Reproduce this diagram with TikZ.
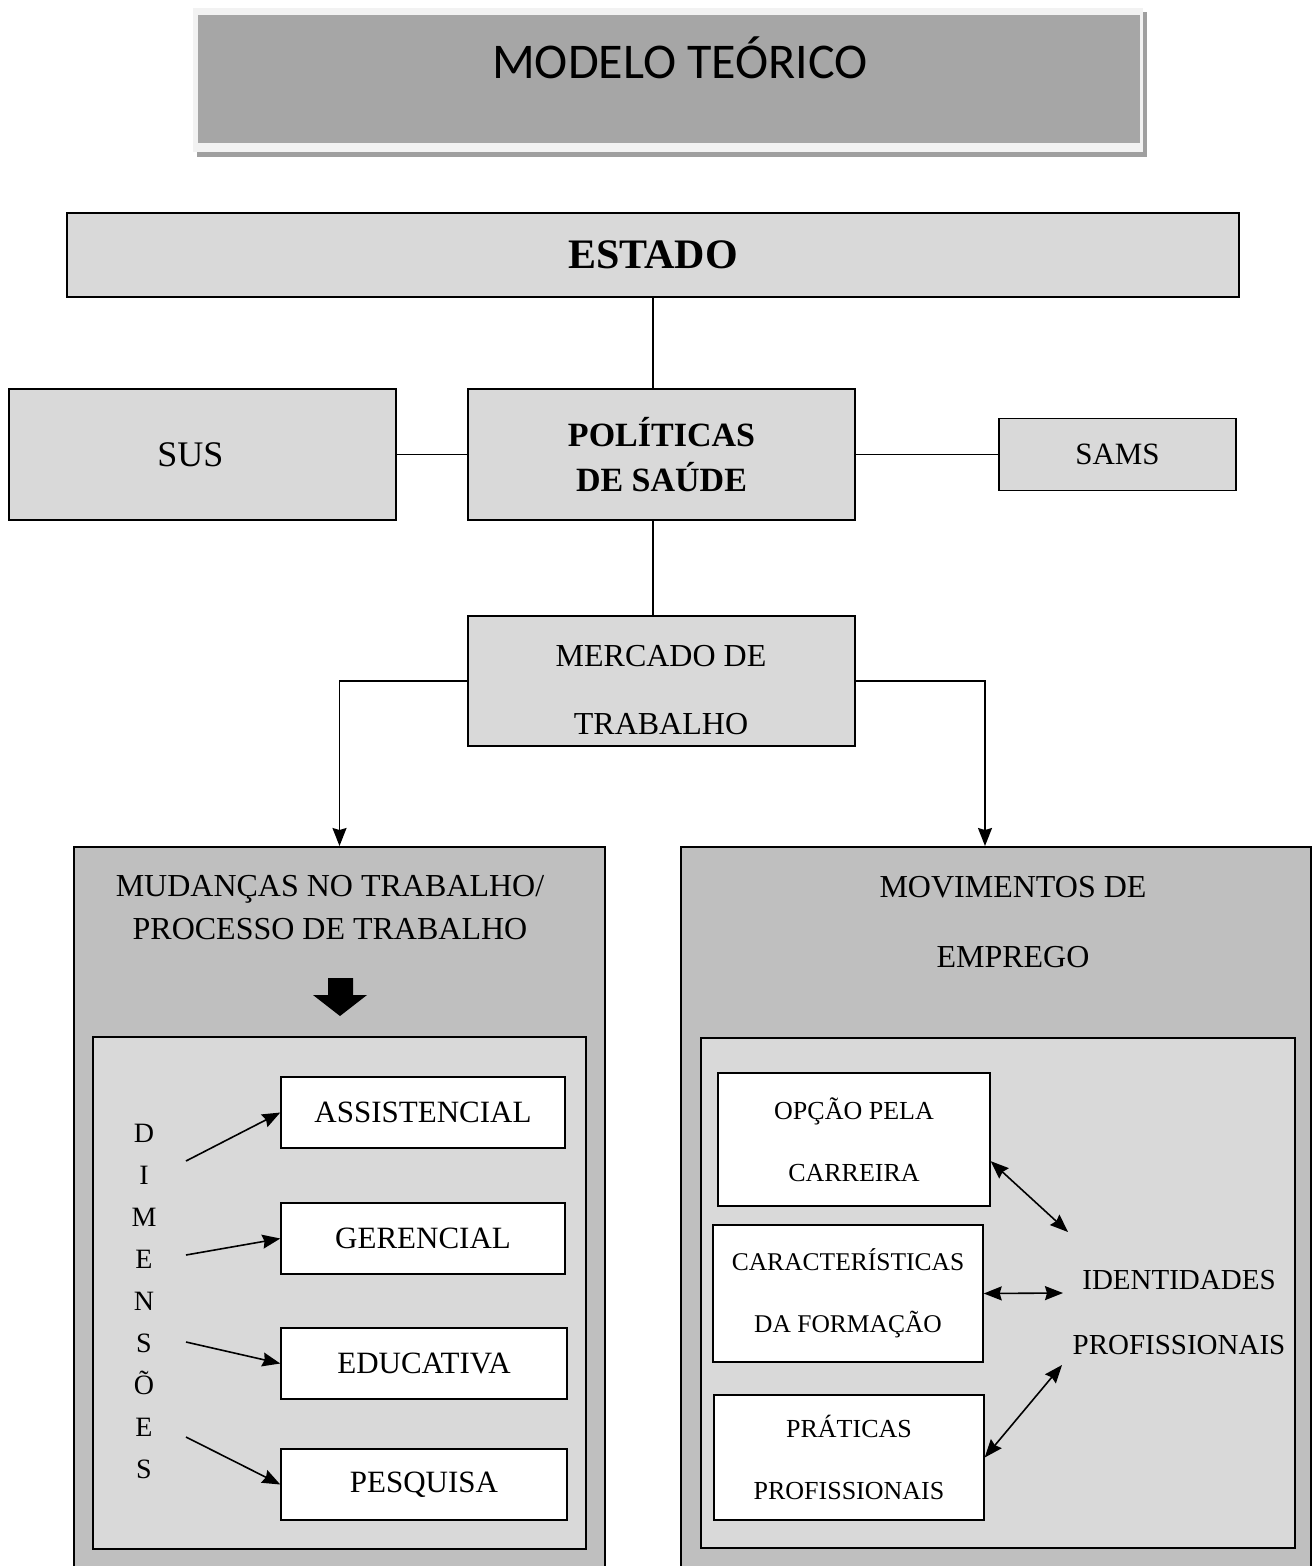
\documentclass[tikz,border=0pt]{standalone}
\usepackage{fontspec}
\setmainfont{Liberation Serif}
\newfontfamily\titlefont{Carlito}
\usepackage{tikz}
\usetikzlibrary{arrows.meta}
\definecolor{cellgray}{HTML}{D9D9D9}
\definecolor{panelgray}{HTML}{BFBFBF}
\definecolor{titlegray}{HTML}{A6A6A6}
\definecolor{titleedge}{HTML}{F2F2F2}
\definecolor{shadowgray}{HTML}{9F9F9F}
\tikzstyle{cell} = [rectangle, draw=black, line width=1.4pt, fill=cellgray, inner sep=0pt, text centered]
\tikzstyle{whitecell} = [cell, fill=white]
\tikzstyle{panel} = [cell, fill=panelgray, line width=1.6pt]
\tikzstyle{innerpanel} = [cell, fill=cellgray]
\tikzstyle{link} = [line width=1.4pt]
\tikzstyle{arrow} = [line width=1.6pt,->,>={Stealth[length=18pt,width=14pt,inset=2pt]}]
\tikzstyle{darrow} = [arrow,<->]

\begin{document}
\begin{tikzpicture}[x=1pt, y=-1pt]
\useasboundingbox (0,0) rectangle (1313,1566);
% titulo com sombra
\fill [shadowgray] (197,12) rectangle (1147,157);
\fill [titleedge] (193,8) rectangle (1143,152);
\node (titulo) [rectangle, fill=titlegray, minimum width=942, minimum height=128, inner sep=0pt] at (669,79) {};
\node (titulotxt) [font=\titlefont\fontsize{50}{60}\selectfont] at (680,58) {MODELO TEÓRICO};

\node (estado) [cell, minimum width=1172, minimum height=84, font=\bfseries\fontsize{42}{50}\selectfont] at (653,255) {ESTADO};
\node (sus) [cell, minimum width=387, minimum height=131, font=\fontsize{36}{43}\selectfont] at (202.5,454.5) {\hspace*{-24pt}SUS};
\node (politicas) [cell, minimum width=387, minimum height=131, font=\bfseries\fontsize{34}{45}\selectfont, align=center] at (661.5,454.5) {POLÍTICAS\\DE SAÚDE};
\node (sams) [cell, minimum width=237, minimum height=72, font=\fontsize{31}{37}\selectfont] at (1117.5,454.5) {SAMS};
\node (mercado) [cell, minimum width=387, minimum height=130] at (661.5,681) {};
\node (mercadotxt) [font=\fontsize{32}{68}\selectfont, align=center] at (661,690) {MERCADO DE\\TRABALHO};

\draw [link] (estado.south) -- (estado.south |- politicas.north);
\draw [link] (estado.south |- politicas.south) -- (estado.south |- mercado.north);
\draw [link] (sus.east) -- (politicas.west);
\draw [link] (politicas.east) -- (sams.west);

% paineis de baixo
\node (mudancas) [panel, minimum width=531, minimum height=740, anchor=north] at (339.5,846) {};
\node (movimentos) [panel, minimum width=630, minimum height=740, anchor=north] at (996,846) {};
\draw [arrow] (mercado.west) -| (mudancas.north);
\draw [arrow] (mercado.east) -| ([xshift=-11pt]movimentos.north);

\node (mudtxt) [font=\fontsize{32}{43}\selectfont, align=center] at (330,908) {MUDANÇAS NO TRABALHO/\\PROCESSO DE TRABALHO};
\node (movtxt) [font=\fontsize{32}{70}\selectfont, align=center] at (1013,922) {MOVIMENTOS DE\\EMPREGO};
\fill (328,978) -- (353,978) -- (353,995) -- (367,995) -- (340,1016) -- (313,995) -- (328,995) -- cycle;

\node (dimbox) [innerpanel, minimum width=493, minimum height=512] at (339.5,1293) {};
\node (empbox) [innerpanel, minimum width=594, minimum height=510] at (998,1293) {};

% dimensoes
\node (dimensoes) [font=\fontsize{28}{42}\selectfont, align=center] at (144,1301) {D\\I\\M\\E\\N\\S\\Õ\\E\\S};
\node (assist) [whitecell, minimum width=284, minimum height=71, font=\fontsize{31}{37}\selectfont] at (423,1112.5) {ASSISTENCIAL};
\node (geren) [whitecell, minimum width=284, minimum height=71, font=\fontsize{31}{37}\selectfont] at (423,1238.5) {GERENCIAL};
\node (educ) [whitecell, minimum width=286, minimum height=71, font=\fontsize{31}{37}\selectfont] at (424,1363.5) {EDUCATIVA};
\node (pesq) [whitecell, minimum width=286, minimum height=71, font=\fontsize{31}{37}\selectfont] at (424,1484.5) {PESQUISA};
\foreach \i/\y/\t in {1/1161/assist, 2/1255/geren, 3/1342/educ, 4/1437/pesq} {
  \coordinate (d\i) at (186,\y);
  \draw [arrow] (d\i) -- (\t.west);
}

% identidades
\node (opcao) [whitecell, minimum width=272, minimum height=133, font=\fontsize{26}{62}\selectfont, align=center] at (854,1139.5) {OPÇÃO PELA\\CARREIRA};
\node (carac) [whitecell, minimum width=270, minimum height=137, font=\fontsize{25.5}{62}\selectfont, align=center] at (848,1293.5) {CARACTERÍSTICAS\\DA FORMAÇÃO};
\node (prat) [whitecell, minimum width=270, minimum height=125, font=\fontsize{26}{62}\selectfont, align=center] at (849,1457.5) {PRÁTICAS\\PROFISSIONAIS};
\node (ident) [font=\fontsize{29}{65}\selectfont, align=center] at (1179,1313) {IDENTIDADES\\PROFISSIONAIS};
\coordinate (i1) at (1068,1232);
\coordinate (i2) at (1063,1293);
\coordinate (i3) at (1062,1365);
\draw [darrow] (opcao.-9) -- (i1);
\draw [darrow] (carac.east) -- (i2);
\draw [darrow] (prat.east) -- (i3);
\end{tikzpicture}
\end{document}
